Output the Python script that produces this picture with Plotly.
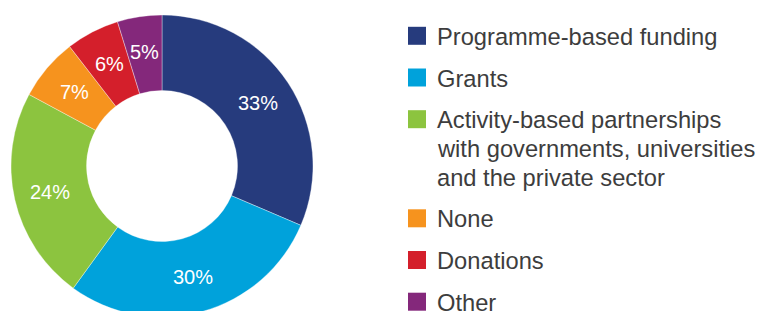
import math
import plotly.graph_objects as go

labels = [
    "Programme-based funding",
    "Grants",
    "Activity-based partnerships<br>with governments, universities<br>and the private sector",
    "None",
    "Donations",
    "Other",
]
values = [33, 30, 24, 7, 6, 5]
text_labels = ["33%", "30%", "24%", "7%", "6%", "5%"]
colors = ["#263b7d", "#00a2db", "#8cc43f", "#f6931e", "#d41f2b", "#84287b"]

W, H = 763, 311
OFF = 8  # the page body adds an 8px margin around the figure

# donut geometry in page pixels
CX, CY, R = 162, 166, 151
HOLE = 0.5
LABEL_R = 115  # radius at which the percentage labels sit

def fx(x):  # page x -> paper x
    return (x - OFF) / W

def fy(y):  # page y -> paper y
    return 1 - (y - OFF) / H

fig = go.Figure(
    go.Pie(
        labels=labels,
        values=values,
        text=text_labels,
        textinfo="none",
        marker=dict(colors=colors, line=dict(color="rgba(255,255,255,0.6)", width=0.6)),
        hole=HOLE,
        sort=False,
        direction="clockwise",
        rotation=0,
        domain=dict(x=[fx(CX - R), fx(CX + R)], y=[fy(CY + R), fy(CY - R)]),
        hoverinfo="label+text",
        showlegend=False,
    )
)

annotations = []

# percentage labels at the mid-angle of each slice (clockwise from 12 o'clock)
total = sum(values)
cum = 0
for v, t in zip(values, text_labels):
    mid = (cum + v / 2) / total * 2 * math.pi
    cum += v
    px = CX + LABEL_R * math.sin(mid)
    py = CY - LABEL_R * math.cos(mid)
    annotations.append(dict(
        xref="paper", yref="paper", x=fx(px), y=fy(py),
        xanchor="center", yanchor="middle", text=t, showarrow=False,
        font=dict(family="Liberation Sans, Arial, sans-serif", size=20, color="white"),
    ))

# Legend drawn as squares + text lines
LEG_X0, LEG_SQ = 408, 18
TEXT_X = 435
FIRST_Y = 35.8
LINE_H = 28.7
GAP = 13.0

shapes = []
y = FIRST_Y
for lab, col in zip(labels, colors):
    lines = lab.split("<br>")
    shapes.append(dict(
        type="rect", xref="paper", yref="paper",
        x0=fx(LEG_X0), x1=fx(LEG_X0 + LEG_SQ),
        y0=fy(y + LEG_SQ / 2), y1=fy(y - LEG_SQ / 2),
        fillcolor=col, line=dict(width=0), layer="above",
    ))
    for j, ln in enumerate(lines):
        annotations.append(dict(
            xref="paper", yref="paper",
            x=fx(TEXT_X), y=fy(y + j * LINE_H + 1),
            xanchor="left", yanchor="middle",
            text=ln, showarrow=False,
            font=dict(family="Liberation Sans, Arial, sans-serif", size=23.7, color="#3d3d3d"),
        ))
    y += len(lines) * LINE_H + GAP

fig.update_layout(
    width=W,
    height=H,
    margin=dict(l=0, r=0, t=0, b=0),
    paper_bgcolor="white",
    plot_bgcolor="white",
    showlegend=False,
    shapes=shapes,
    annotations=annotations,
)

fig.write_html("out.html")
